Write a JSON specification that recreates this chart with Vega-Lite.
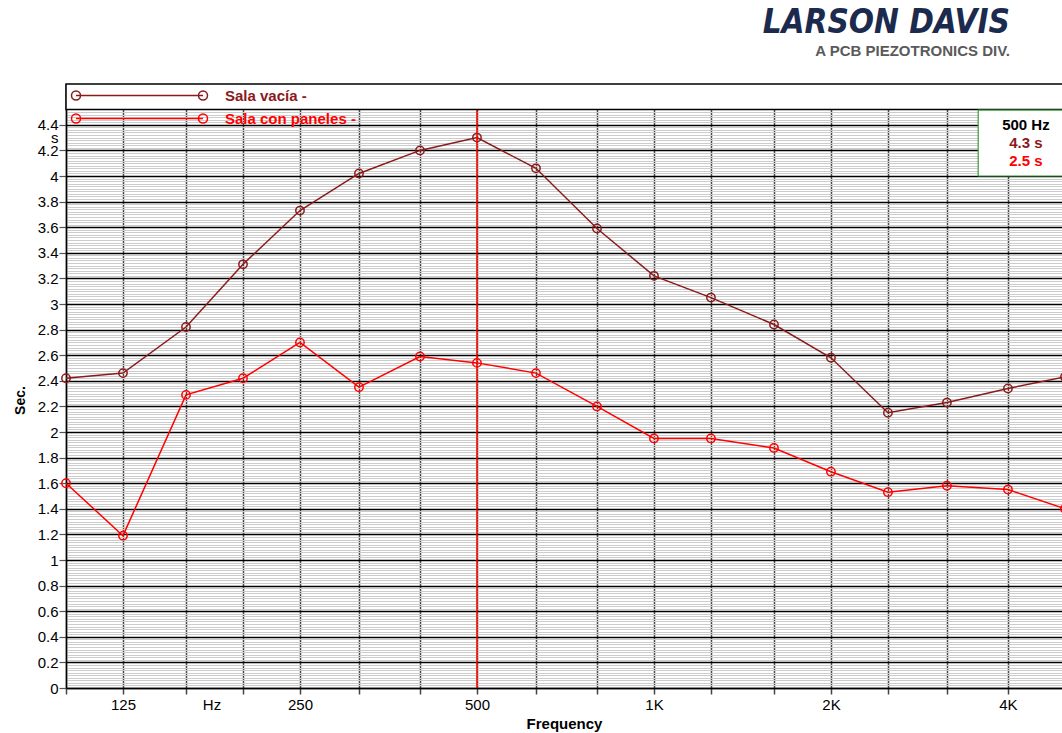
{
  "$schema": "https://vega.github.io/schema/vega-lite/v6.json",
  "autosize": "none",
  "width": 996,
  "height": 604,
  "padding": {"left": 66, "top": 84, "right": 0, "bottom": 45},
  "background": "white",
  "title": {
    "text": "LARSON DAVIS",
    "subtitle": "A PCB PIEZOTRONICS DIV.",
    "anchor": "end",
    "frame": "group",
    "orient": "top",
    "offset": 20,
    "dx": -52,
    "font": "Liberation Sans Narrow, DejaVu Sans Condensed, DejaVu Sans",
    "fontSize": 33,
    "fontStyle": "italic",
    "fontWeight": "bold",
    "color": "#1c2a4e",
    "subtitleFont": "Liberation Sans",
    "subtitleFontSize": 15,
    "subtitleFontWeight": "bold",
    "subtitleColor": "#5a5a5a",
    "subtitlePadding": 4
  },
  "config": {"view": {"stroke": null}},
  "datasets": {
    "rt": [
      {"freq": 100, "series": "Sala vacía", "rt": 2.42},
      {"freq": 125, "series": "Sala vacía", "rt": 2.46},
      {"freq": 160, "series": "Sala vacía", "rt": 2.82},
      {"freq": 200, "series": "Sala vacía", "rt": 3.31},
      {"freq": 250, "series": "Sala vacía", "rt": 3.73},
      {"freq": 315, "series": "Sala vacía", "rt": 4.02},
      {"freq": 400, "series": "Sala vacía", "rt": 4.2},
      {"freq": 500, "series": "Sala vacía", "rt": 4.3},
      {"freq": 630, "series": "Sala vacía", "rt": 4.06},
      {"freq": 800, "series": "Sala vacía", "rt": 3.59},
      {"freq": 1000, "series": "Sala vacía", "rt": 3.22},
      {"freq": 1250, "series": "Sala vacía", "rt": 3.05},
      {"freq": 1600, "series": "Sala vacía", "rt": 2.84},
      {"freq": 2000, "series": "Sala vacía", "rt": 2.58},
      {"freq": 2500, "series": "Sala vacía", "rt": 2.15},
      {"freq": 3150, "series": "Sala vacía", "rt": 2.23},
      {"freq": 4000, "series": "Sala vacía", "rt": 2.34},
      {"freq": 5000, "series": "Sala vacía", "rt": 2.43},
      {"freq": 100, "series": "Sala con paneles", "rt": 1.6},
      {"freq": 125, "series": "Sala con paneles", "rt": 1.19},
      {"freq": 160, "series": "Sala con paneles", "rt": 2.29},
      {"freq": 200, "series": "Sala con paneles", "rt": 2.42},
      {"freq": 250, "series": "Sala con paneles", "rt": 2.7},
      {"freq": 315, "series": "Sala con paneles", "rt": 2.35},
      {"freq": 400, "series": "Sala con paneles", "rt": 2.59},
      {"freq": 500, "series": "Sala con paneles", "rt": 2.54},
      {"freq": 630, "series": "Sala con paneles", "rt": 2.46},
      {"freq": 800, "series": "Sala con paneles", "rt": 2.2},
      {"freq": 1000, "series": "Sala con paneles", "rt": 1.95},
      {"freq": 1250, "series": "Sala con paneles", "rt": 1.95},
      {"freq": 1600, "series": "Sala con paneles", "rt": 1.875},
      {"freq": 2000, "series": "Sala con paneles", "rt": 1.69},
      {"freq": 2500, "series": "Sala con paneles", "rt": 1.53},
      {"freq": 3150, "series": "Sala con paneles", "rt": 1.58},
      {"freq": 4000, "series": "Sala con paneles", "rt": 1.55},
      {"freq": 5000, "series": "Sala con paneles", "rt": 1.4}
    ],
    "one": [{}]
  },
  "layer": [
    {
      "data": {"name": "rt"},
      "mark": {"type": "line", "strokeWidth": 1.5, "point": {"filled": false, "size": 70, "strokeWidth": 1.5}},
      "encoding": {
        "x": {
          "field": "freq", "type": "quantitative",
          "scale": {"type": "log", "domain": [100, 4943], "nice": false},
          "axis": {
            "values": [100, 125, 160, 176.8, 200, 250, 315, 400, 500, 630, 800, 1000, 1250, 1600, 2000, 2500, 3150, 4000],
            "labelExpr": "datum.value==125?'125':datum.value==176.8?'Hz':datum.value==250?'250':datum.value==500?'500':datum.value==1000?'1K':datum.value==2000?'2K':datum.value==4000?'4K':''",
            "grid": true,
            "gridColor": "#4a4a4a",
            "gridWidth": 1.5,
            "gridOpacity": {"condition": {"test": "datum.value==176.8", "value": 0}, "value": 1},
            "tickOpacity": {"condition": {"test": "datum.value==176.8", "value": 0}, "value": 1},
            "tickColor": "#444",
            "tickSize": 6,
            "tickWidth": 1.5,
            "domainColor": "#000",
            "domainWidth": 1.5,
            "labelFont": "Liberation Sans",
            "labelFontSize": 15,
            "labelColor": "#000",
            "labelPadding": 3,
            "labelOverlap": false,
            "labelFlush": false,
            "title": "Frequency",
            "titleFont": "Liberation Sans",
            "titleFontSize": 15,
            "titleFontWeight": "bold",
            "titleColor": "#000",
            "titlePadding": 4
          }
        },
        "y": {
          "field": "rt", "type": "quantitative",
          "scale": {"domain": [0, 4.71875], "nice": false},
          "axis": {
            "tickCount": 236,
            "labelExpr": "abs(datum.value-4.3)<0.001 ? 's' : ((round(datum.value*100)%20==0 && datum.value<4.41) ? format(datum.value,'~g') : '')",
            "grid": true,
            "gridColor": {"condition": {"test": "round(datum.value*100)%20==0", "value": "#000"}, "value": "#cccccc"},
            "gridWidth": {"condition": {"test": "round(datum.value*100)%20==0", "value": 1.5}, "value": 1},
            "tickOpacity": {"condition": {"test": "round(datum.value*100)%20==0 && datum.value<4.41", "value": 1}, "value": 0},
            "tickColor": "#555",
            "tickSize": 7,
            "tickWidth": 1.2,
            "domainColor": "#000",
            "domainWidth": 1.5,
            "labelFont": "Liberation Sans",
            "labelFontSize": 15,
            "labelColor": "#000",
            "labelPadding": 1,
            "labelOverlap": false,
            "labelBound": false,
            "title": "Sec.",
            "titleFont": "Liberation Sans",
            "titleFontSize": 14,
            "titleFontWeight": "bold",
            "titleColor": "#000",
            "titlePadding": 10,
            "titleY": 316
          }
        },
        "color": {
          "field": "series", "type": "nominal",
          "scale": {"domain": ["Sala vacía", "Sala con paneles"], "range": ["#8b1a1a", "#ff0000"]},
          "legend": {
            "title": null,
            "orient": "none",
            "legendX": 66,
            "legendY": 4,
            "direction": "vertical",
            "padding": 0,
            "rowPadding": 7,
            "symbolType": "M-13.6,0A0.9,0.9 0 1,1 -11.8,0A0.9,0.9 0 1,1 -13.6,0M-12.7,0L12.7,0M11.8,0A0.9,0.9 0 1,1 13.6,0A0.9,0.9 0 1,1 11.8,0",
            "symbolSize": 100,
            "symbolStrokeWidth": 1.5,
            "symbolFillColor": "transparent",
            "labelOffset": 78,
            "labelFont": "Liberation Sans",
            "labelFontSize": 15,
            "labelFontWeight": "bold",
            "labelExpr": "datum.label + ' -'",
            "encode": {
              "labels": {"update": {"fill": {"scale": "color", "field": "value"}}},
              "symbols": {"update": {"fill": {"value": "transparent"}, "strokeWidth": {"value": 1.5}}}
            }
          }
        }
      }
    },
    {
      "data": {"name": "one"},
      "mark": {"type": "rule", "color": "#ff0000", "strokeWidth": 1.5},
      "encoding": {"x": {"datum": 500, "type": "quantitative"}}
    },
    {
      "data": {"name": "one"},
      "mark": {"type": "rect", "fill": "white", "stroke": "#000", "strokeWidth": 1.5},
      "encoding": {
        "x": {"datum": 100, "type": "quantitative"},
        "x2": {"datum": 7000},
        "y": {"datum": 4.52, "type": "quantitative"},
        "y2": {"datum": 4.71875}
      }
    },
    {
      "data": {"name": "one"},
      "mark": {"type": "rect", "fill": "white", "stroke": "#3a9a3a", "strokeWidth": 1.2},
      "encoding": {
        "x": {"datum": 3560, "type": "quantitative"},
        "x2": {"datum": 7000},
        "y": {"datum": 4.0, "type": "quantitative"},
        "y2": {"datum": 4.515}
      }
    },
    {
      "data": {"name": "one"},
      "mark": {"type": "text", "text": "500 Hz", "font": "Liberation Sans", "fontSize": 15, "fontWeight": "bold", "color": "#000", "align": "center", "baseline": "middle"},
      "encoding": {
        "x": {"datum": 4292, "type": "quantitative"},
        "y": {"datum": 4.398, "type": "quantitative"}
      }
    },
    {
      "data": {"name": "one"},
      "mark": {"type": "text", "text": "4.3 s", "font": "Liberation Sans", "fontSize": 15, "fontWeight": "bold", "color": "#8b1a1a", "align": "center", "baseline": "middle"},
      "encoding": {
        "x": {"datum": 4292, "type": "quantitative"},
        "y": {"datum": 4.255, "type": "quantitative"}
      }
    },
    {
      "data": {"name": "one"},
      "mark": {"type": "text", "text": "2.5 s", "font": "Liberation Sans", "fontSize": 15, "fontWeight": "bold", "color": "#ff0000", "align": "center", "baseline": "middle"},
      "encoding": {
        "x": {"datum": 4292, "type": "quantitative"},
        "y": {"datum": 4.117, "type": "quantitative"}
      }
    }
  ]
}
